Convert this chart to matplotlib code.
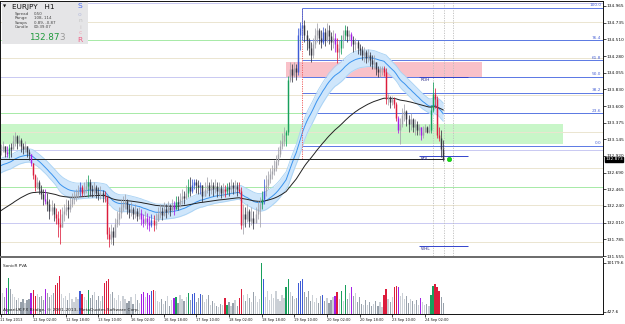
#!/usr/bin/env python3
"""EURJPY H1 chart with SonicR dragon, PVA candles and a PVA volume panel."""

import matplotlib
matplotlib.use("Agg")
import matplotlib.pyplot as plt
import numpy as np
from matplotlib import font_manager
from matplotlib.patches import Rectangle
from matplotlib.text import Annotation
from matplotlib.transforms import blended_transform_factory

W, H = 625, 324

# ---- values -------------------------------------------------------------
first_open = 133.00
closes = [
    133.01, 133.05, 132.98, 132.95, 133.03, 133.02, 133.13, 133.19, 133.10, 133.14,
    133.06, 133.02, 133.05, 132.98, 132.94, 132.82, 132.66, 132.49, 132.56, 132.47,
    132.40, 132.33, 132.30, 132.26, 132.17, 132.22, 132.13, 132.08, 131.99, 131.95,
    132.13, 132.17, 132.23, 132.19, 132.27, 132.33, 132.36, 132.40, 132.44, 132.49,
    132.42, 132.47, 132.51, 132.57, 132.47, 132.44, 132.49, 132.42, 132.40, 132.42,
    132.37, 132.36, 131.85, 131.79, 131.89, 131.81, 131.99, 132.06, 132.14, 132.22,
    132.26, 132.30, 132.19, 132.15, 132.19, 132.13, 132.17, 132.10, 132.14, 132.06,
    132.00, 132.08, 132.02, 131.98, 132.04, 131.98, 132.03, 132.13, 132.17, 132.11,
    132.19, 132.15, 132.22, 132.18, 132.25, 132.19, 132.29, 132.26, 132.33, 132.38,
    132.34, 132.42, 132.49, 132.44, 132.52, 132.56, 132.53, 132.49, 132.53, 132.38,
    132.47, 132.52, 132.45, 132.52, 132.47, 132.51, 132.44, 132.48, 132.41, 132.47,
    132.44, 132.49, 132.47, 132.52, 132.48, 132.51, 132.47, 132.44, 131.98, 132.13,
    132.06, 132.17, 132.03, 132.08, 132.00, 132.13, 132.19, 132.26, 132.33, 132.44,
    132.53, 132.60, 132.67, 132.71, 132.76, 132.85, 132.94, 133.05, 133.12, 133.20,
    133.24, 133.96, 134.10, 134.03, 134.12, 134.07, 134.57, 134.67, 134.71, 134.57,
    134.50, 134.39, 134.30, 134.44, 134.57, 134.64, 134.53, 134.48, 134.61, 134.50,
    134.64, 134.56, 134.48, 134.53, 134.45, 134.34, 134.39, 134.50, 134.57, 134.64,
    134.56, 134.58, 134.50, 134.44, 134.48, 134.39, 134.37, 134.30, 134.34, 134.26,
    134.30, 134.23, 134.18, 134.20, 134.10, 134.07, 134.10, 134.12, 134.07, 133.69,
    133.72, 133.65, 133.69, 133.63, 133.44, 133.28, 133.35, 133.48, 133.53, 133.42,
    133.35, 133.42, 133.31, 133.35, 133.28, 133.31, 133.20, 133.24, 133.31, 133.25,
    133.28, 133.55, 133.76, 133.69, 133.21, 133.16, 133.01, 132.873,
]
highs = [
    133.08, 133.12, 133.06, 133.06, 133.08, 133.09, 133.20, 133.25, 133.21, 133.20,
    133.16, 133.10, 133.13, 133.06, 133.02, 132.94, 132.83, 132.67, 132.63, 132.59,
    132.52, 132.47, 132.47, 132.41, 132.33, 132.32, 132.28, 132.21, 132.17, 132.19,
    132.22, 132.26, 132.33, 132.32, 132.36, 132.41, 132.44, 132.47, 132.52, 132.57,
    132.52, 132.56, 132.60, 132.66, 132.60, 132.53, 132.56, 132.52, 132.49, 132.51,
    132.45, 132.44, 132.38, 131.95, 131.99, 131.95, 132.08, 132.17, 132.22, 132.33,
    132.38, 132.40, 132.33, 132.26, 132.29, 132.23, 132.26, 132.21, 132.22, 132.19,
    132.13, 132.17, 132.14, 132.10, 132.13, 132.11, 132.14, 132.22, 132.26, 132.23,
    132.29, 132.26, 132.30, 132.27, 132.33, 132.30, 132.37, 132.37, 132.42, 132.47,
    132.44, 132.52, 132.60, 132.63, 132.60, 132.60, 132.60, 132.59, 132.56, 132.49,
    132.57, 132.63, 132.57, 132.61, 132.56, 132.60, 132.56, 132.57, 132.52, 132.55,
    132.53, 132.55, 132.56, 132.60, 132.57, 132.59, 132.56, 132.56, 132.49, 132.26,
    132.22, 132.26, 132.19, 132.22, 132.17, 132.23, 132.30, 132.36, 132.44, 132.60,
    132.66, 132.71, 132.76, 132.80, 132.87, 132.93, 133.04, 133.14, 133.23, 133.31,
    133.28, 134.01, 134.20, 134.18, 134.20, 134.18, 134.67, 134.75, 134.94, 134.77,
    134.64, 134.53, 134.48, 134.53, 134.67, 134.73, 134.67, 134.64, 134.68, 134.67,
    134.73, 134.71, 134.61, 134.64, 134.60, 134.53, 134.50, 134.57, 134.64, 134.71,
    134.69, 134.64, 134.61, 134.56, 134.53, 134.50, 134.45, 134.42, 134.41, 134.37,
    134.38, 134.34, 134.30, 134.29, 134.20, 134.15, 134.15, 134.15, 134.15, 134.12,
    133.76, 133.74, 133.74, 133.72, 133.65, 133.46, 133.44, 133.58, 133.63, 133.55,
    133.48, 133.50, 133.44, 133.42, 133.39, 133.36, 133.31, 133.33, 133.36, 133.33,
    133.36, 133.62, 133.93, 133.85, 133.74, 133.31, 133.28, 133.14,
]
lows = [
    132.93, 132.97, 132.91, 132.91, 132.89, 132.91, 133.01, 133.06, 133.02, 133.05,
    132.98, 132.94, 132.97, 132.90, 132.87, 132.78, 132.61, 132.44, 132.47, 132.40,
    132.33, 132.25, 132.26, 132.17, 132.06, 132.11, 132.03, 131.99, 131.81, 131.72,
    131.99, 132.03, 132.11, 132.08, 132.15, 132.22, 132.26, 132.30, 132.34, 132.38,
    132.38, 132.38, 132.41, 132.36, 132.38, 132.36, 132.38, 132.34, 132.32, 132.33,
    132.29, 132.29, 131.79, 131.68, 131.72, 131.70, 131.88, 131.95, 131.98, 132.08,
    132.17, 132.19, 132.13, 132.07, 132.10, 132.06, 132.08, 132.03, 132.06, 131.98,
    131.95, 131.98, 131.92, 131.89, 131.95, 131.89, 131.92, 132.03, 132.07, 132.04,
    132.10, 132.07, 132.13, 132.10, 132.15, 132.11, 132.19, 132.18, 132.23, 132.27,
    132.26, 132.33, 132.36, 132.38, 132.41, 132.47, 132.42, 132.40, 132.40, 132.29,
    132.37, 132.41, 132.37, 132.40, 132.38, 132.41, 132.36, 132.38, 132.34, 132.37,
    132.36, 132.40, 132.38, 132.42, 132.40, 132.41, 132.38, 132.41, 131.92, 131.85,
    131.95, 132.02, 131.95, 131.98, 131.92, 132.00, 132.06, 131.95, 132.19, 132.26,
    132.38, 132.47, 132.55, 132.60, 132.66, 132.71, 132.79, 132.90, 133.01, 133.06,
    133.05, 133.21, 133.93, 133.93, 133.99, 133.96, 134.03, 134.37, 134.50, 134.48,
    134.37, 134.30, 134.20, 134.26, 134.39, 134.48, 134.45, 134.39, 134.45, 134.42,
    134.48, 134.45, 134.37, 134.39, 134.34, 134.19, 134.26, 134.31, 134.39, 134.50,
    134.48, 134.50, 134.42, 134.34, 134.37, 134.31, 134.29, 134.23, 134.20, 134.19,
    134.20, 134.15, 134.10, 134.10, 134.03, 133.99, 133.99, 134.03, 134.01, 133.63,
    133.61, 133.58, 133.61, 133.57, 133.39, 133.23, 133.08, 133.31, 133.39, 133.33,
    133.25, 133.28, 133.24, 133.21, 133.20, 133.20, 133.14, 133.17, 133.24, 133.23,
    133.23, 133.23, 133.52, 133.58, 133.17, 133.12, 132.90, 132.85,
]
volumes = [
    3800, 4100, 3400, 5200, 7200, 4900, 3900, 3300, 2800, 3100,
    2400, 2900, 2200, 2700, 3000, 4200, 4800, 3600, 4000, 3300,
    3500, 2800, 5000, 4100, 3300, 3700, 4100, 5700, 6200, 7500,
    3900, 3200, 3600, 2700, 4100, 3000, 2400, 3300, 2900, 4600,
    3900, 3300, 2800, 4800, 3200, 3800, 4300, 2800, 3500, 2500,
    3600, 6200, 6600, 7000, 4000, 4400, 3200, 2700, 3800, 2500,
    3600, 3000, 2100, 2600, 3400, 1900, 3900, 2800, 2200, 4000,
    4300, 3300, 4100, 3800, 4600, 4700, 4500, 2600, 2300, 3000,
    1900, 2500, 3500, 1600, 2700, 3100, 3400, 2200, 3800, 2900,
    2500, 3300, 4200, 2800, 4000, 4100, 2400, 3200, 4000, 3700,
    2400, 3000, 3700, 1800, 2600, 2100, 1500, 1300, 2000, 1700,
    3100, 1800, 2300, 1600, 2200, 2800, 1600, 3200, 5000, 3700,
    2600, 3900, 3100, 2300, 4300, 3500, 2400, 3000, 10179.6, 7000,
    3400, 4600, 2800, 4000, 3200, 4500, 3000, 2600, 3700, 3100,
    5300, 7000, 4300, 3600, 2900, 3200, 6200, 6500, 6900, 4300,
    3300, 4500, 2600, 3800, 2300, 3100, 2100, 3500, 3800, 2500,
    3100, 2200, 2800, 3300, 3600, 4300, 2900, 4600, 2500, 5800,
    3000, 4200, 5300, 3600, 4100, 2400, 3300, 2000, 1700, 2700,
    1800, 2300, 1500, 2000, 2600, 1600, 2300, 1400, 3800, 5000,
    3000, 2400, 3400, 5300, 5600, 5400, 3600, 4100, 2900, 3500,
    2200, 3000, 2500, 2000, 2700, 1800, 3200, 2300, 1700, 1900,
    1500, 3800, 5600, 5900, 5300, 4600, 3300, 2100,
]
# PVA colour codes: g climax bull, r climax bear, b rising bull, p rising bear
pva_marks = {
    3: "p", 4: "g", 15: "p", 16: "r", 17: "r", 22: "p", 27: "r", 28: "r", 29: "r",
    39: "b", 40: "r", 43: "g", 51: "r", 52: "r", 53: "r", 69: "p", 70: "p",
    72: "p", 73: "p", 74: "b", 75: "r", 85: "p", 86: "g", 92: "g", 94: "b",
    95: "b", 98: "b", 110: "r", 111: "g", 117: "r", 118: "r", 128: "g", 129: "b",
    140: "g", 141: "g", 146: "b", 147: "b", 148: "b", 158: "b", 164: "p",
    165: "r", 167: "g", 169: "g", 172: "p", 188: "r", 189: "r", 193: "r",
    194: "r", 195: "p", 206: "p", 211: "g", 212: "g", 213: "r", 214: "r", 215: "r",
}

time_labels = [
    "11 Sep 2013", "12 Sep 02:00", "12 Sep 18:00", "13 Sep 10:00", "16 Sep 02:00",
    "16 Sep 18:00", "17 Sep 10:00", "18 Sep 02:00", "18 Sep 18:00", "19 Sep 10:00",
    "20 Sep 02:00", "20 Sep 18:00", "23 Sep 10:00", "24 Sep 02:00",
]
bars_per_label = 16
price_ticks = [
    134.965, 134.735, 134.510, 134.280, 134.055, 133.830, 133.600, 133.375,
    133.145, 132.920, 132.690, 132.465, 132.240, 132.010, 131.785, 131.555,
]
vol_ticks = [427.6, 10179.6]

bid = 132.873
fib_high, fib_low = 134.94, 133.06
fib_levels = [100.0, 76.4, 61.8, 50.0, 38.2, 23.6, 0.0]
fib_bar = 148
round_levels = [135.00, 134.75, 134.50, 134.25, 134.00, 133.75, 133.50,
                133.25, 133.00, 132.75, 132.50, 132.25, 132.00, 131.75]
green_zone = (133.077, 133.362)
green_zone_bars = (-1, 275.7)
pink_zone = (133.99, 134.20)
pink_zone_bars = (140, 236)
range_lines = {"ROH": 133.99, "RDL": 132.914, "WHL": 131.69}
range_bars = (205, 229)
marker_bars = [212, 217.5, 222]
dot_bar = 220

ema_seed_close, ema_seed_high, ema_seed_low, ema_seed_slow = 132.77, 132.87, 132.67, 132.15

PVA = {"g": "#18a05c", "r": "#dc1c3c", "b": "#3d5bd6", "p": "#a41fe6"}
BULL, BEAR = "#a2a2aa", "#363642"
VBULL, VBEAR = "#cbd0d6", "#98a1ab"
TXT = 3.1


def narrow_font():
    try:
        font_manager.findfont("Liberation Sans Narrow", fallback_to_default=False)
        return "Liberation Sans Narrow", 1.0
    except ValueError:
        return "DejaVu Sans", 0.78


NARROW, NARROW_SCALE = narrow_font()


def ema(values, span, seed):
    alpha = 2.0 / (span + 1)
    out, prev = [], seed
    for v in values:
        prev += alpha * (v - prev)
        out.append(prev)
    return np.array(out)


def fx(px):
    return px / W


def fy(py):
    return 1 - py / H


def level_colour(lvl):
    frac = round(lvl % 1.0, 2)
    if frac == 0.0:
        return "#c9c9f2"
    if frac == 0.5:
        return "#a6eaa6"
    return "#ebe5d0"


def main():
    fig = plt.figure(figsize=(W / 100, H / 100), dpi=100)
    fig.patch.set_facecolor("white")
    xr = ((0 - 0.5) / 2.04, (603 - 0.5) / 2.04)

    ax = fig.add_axes([0, fy(256), fx(603), (256 - 1) / H])
    vax = fig.add_axes([0, fy(314), fx(603), (314 - 258) / H])

    x = np.arange(len(closes))
    c = np.array(closes)
    o = np.array([first_open] + closes[:-1])
    hi = np.maximum(np.array(highs), np.maximum(o, c))
    lo = np.minimum(np.array(lows), np.minimum(o, c))

    # background zones and level lines
    ax.add_patch(Rectangle((green_zone_bars[0], green_zone[0]), green_zone_bars[1] - green_zone_bars[0],
                           green_zone[1] - green_zone[0], facecolor="#c8f6c8", edgecolor="none", zorder=0))
    ax.add_patch(Rectangle((pink_zone_bars[0], pink_zone[0]), pink_zone_bars[1] - pink_zone_bars[0],
                           pink_zone[1] - pink_zone[0], facecolor="#f9c1c9", edgecolor="none", zorder=0))
    for lvl in round_levels:
        ax.axhline(lvl, color=level_colour(lvl), lw=0.7, zorder=0.5)

    for xb in marker_bars:
        ax.axvline(xb, color="#bdbdbd", lw=0.6, ls=(0, (1.5, 1.5)), zorder=0.6)

    span = fib_high - fib_low
    for lvl in fib_levels:
        p = fib_low + span * lvl / 100
        ax.hlines(p, fib_bar, xr[1], color="#5b78e4", lw=0.7, zorder=1)
        ax.text((601 - 0.5) / 2.04, p + 0.008, f"{lvl:.1f}", color="#4a63d6", fontsize=TXT,
                ha="right", va="bottom", zorder=6)
    ax.vlines(fib_bar, bid, fib_high, color="#f06060", lw=0.7, ls=(0, (1.2, 1.2)), zorder=2)

    # SonicR dragon and slow EMA
    d_hi = ema(hi, 34, ema_seed_high)
    d_lo = ema(lo, 34, ema_seed_low)
    d_mid = ema(c, 34, ema_seed_close)
    slow = ema(c, 89, ema_seed_slow)
    ax.fill_between(x, d_lo, d_hi, color="#cfe6fb", lw=0, zorder=1.5)
    ax.plot(x, d_hi, color="#a8d2f4", lw=0.6, zorder=1.6)
    ax.plot(x, d_lo, color="#a8d2f4", lw=0.6, zorder=1.6)
    ax.plot(x, d_mid, color="#3a93ee", lw=0.7, zorder=1.7)
    ax.plot(x, slow, color="#222222", lw=0.7, zorder=1.7)

    # candles
    cols = [PVA[pva_marks[i]] if i in pva_marks else (BULL if c[i] >= o[i] else BEAR) for i in x]
    body_lo = np.minimum(o, c)
    body_hi = np.maximum(o, c)
    thin = (body_hi - body_lo) < 0.01
    body_lo = np.where(thin, body_lo - 0.005, body_lo)
    body_hi = np.where(thin, body_hi + 0.005, body_hi)
    ax.vlines(x, lo, hi, colors=cols, lw=0.55, zorder=4)
    ax.vlines(x, body_lo, body_hi, colors=cols, lw=1.05, zorder=4)

    # bid line, range lines, last-price dot
    ax.hlines(bid, xr[0], x[-1] + 0.5, color="#1e1e1e", lw=0.7, zorder=3)
    for name, p in range_lines.items():
        ax.hlines(p, range_bars[0], range_bars[1], color="#3344cc", lw=0.7, zorder=3)
        ax.text(range_bars[0] + 1, p - 0.01, name, color="#2a2a88", fontsize=TXT,
                ha="left", va="top", zorder=6)
    ax.plot([dot_bar], [bid], "o", color="#11dd11", ms=3.2, mec="#0bb80b", mew=0.4, zorder=6)

    ax.set_xlim(*xr)
    ax.set_ylim(134.965 - 250 / 73.6, 134.965 + 5 / 73.6)
    ax.set_xticks([])
    ax.yaxis.tick_right()
    ax.set_yticks(price_ticks)
    ax.set_yticklabels([f"{p:.3f}" for p in price_ticks], fontsize=TXT, color="#111111")
    ax.tick_params(axis="y", length=2, width=0.5, pad=0.6)
    for side in ("left", "top", "right"):
        ax.spines[side].set_linewidth(0.7)
        ax.spines[side].set_color("#111111")
    ax.spines["bottom"].set_visible(False)
    trans = blended_transform_factory(ax.transAxes, ax.transData)
    ax.text(1.0035, bid, f"{bid:.3f}", transform=trans, fontsize=TXT, color="white",
            ha="left", va="center", zorder=10, clip_on=False,
            bbox=dict(boxstyle="square,pad=0.12", facecolor="black", edgecolor="black"))

    # volume panel
    vcols = [PVA[pva_marks[i]] if i in pva_marks else (VBULL if c[i] >= o[i] else VBEAR) for i in x]
    vax.bar(x, volumes, width=0.62, color=vcols, linewidth=0)
    vax.set_xlim(*xr)
    vax.set_ylim(0, 10179.6 * 56 / 51)
    vax.yaxis.tick_right()
    vax.set_yticks(vol_ticks)
    vax.set_yticklabels([f"{v:.1f}" for v in vol_ticks], fontsize=TXT, color="#111111")
    vax.tick_params(axis="y", length=2, width=0.5, pad=0.6)
    label_bars = x[::bars_per_label][: len(time_labels)]
    vax.set_xticks(label_bars)
    vax.set_xticklabels(time_labels, fontsize=3.3 * NARROW_SCALE, family=[NARROW, "DejaVu Sans"],
                        color="#111111", ha="left")
    vax.tick_params(axis="x", length=2, width=0.5, pad=1.2)
    for side in ("left", "bottom", "right"):
        vax.spines[side].set_linewidth(0.7)
        vax.spines[side].set_color("#111111")
    vax.spines["top"].set_visible(False)

    fig.add_artist(Rectangle((0, fy(258)), fx(603), 2 / H, transform=fig.transFigure,
                             facecolor="#6e6e6e", edgecolor="none", zorder=5))
    fig.text(fx(3), fy(266), "SonicR PVA", fontsize=TXT, color="#222222", va="center")
    fig.text(fx(3), fy(310), "AlpariUK FX Bridge, \u00a9 2001-2013, MetaQuotes Software Corp.",
             fontsize=4.0 * NARROW_SCALE, family=[NARROW, "DejaVu Sans"], color="#222222",
             va="center", zorder=6)

    # info panel
    fig.add_artist(Rectangle((fx(2), fy(44)), fx(86), 42 / H, transform=fig.transFigure,
                             facecolor="#e5e5e7", edgecolor="none", zorder=8))
    fig.text(fx(3), fy(6), "\u25bc", fontsize=3, color="#111111", va="center", zorder=9)
    fig.text(fx(12), fy(6.5), "EURJPY   H1", fontsize=5.2, color="#111111", va="center", zorder=9)
    rows = [("Spread", "0.50"), ("Range", "108, 114"), ("Swaps", "0.89, -0.87"), ("Candle", "00:39:07")]
    for k, (name, val) in enumerate(rows):
        yy = 14 + k * 4.4
        fig.text(fx(15), fy(yy), name, fontsize=2.9, color="#444444", va="center", zorder=9)
        fig.text(fx(34), fy(yy), val, fontsize=2.9, color="#444444", va="center", zorder=9)
    price_txt = f"{bid:.3f}"
    t = fig.text(fx(29), fy(37), price_txt[:-1], fontsize=6.3, color="#1f9a3c", va="center", zorder=9)
    last = Annotation(price_txt[-1], xy=(1, 0), xycoords=t, va="bottom", ha="left",
                      fontsize=6.3, color="#9a9a9a", zorder=9)
    fig.add_artist(last)
    letters = [("S", 6, "#4a6af0", 5.4), ("o", 14, "#b6bcdc", 4.3), ("n", 21, "#c2c2c2", 4.3),
               ("i", 27.5, "#c8c2c2", 4.3), ("c", 33, "#f0a6b6", 4.3), ("R", 40, "#f05a82", 5.4)]
    for ch, yy, col, fs in letters:
        fig.text(fx(80), fy(yy), ch, fontsize=fs, color=col, ha="center", va="center", zorder=9)

    fig.savefig("out.png", dpi=100, facecolor="white")
    plt.close(fig)


if __name__ == "__main__":
    main()
